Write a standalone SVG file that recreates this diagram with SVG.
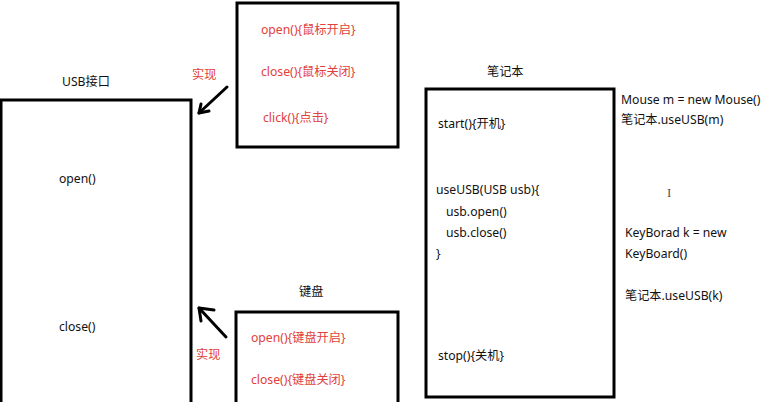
<svg xmlns="http://www.w3.org/2000/svg" width="770" height="402" viewBox="0 0 770 402">
<style>
.box{fill:none;stroke:#000;stroke-width:3}
.t{font-family:"Noto Sans","Noto Sans CJK SC",sans-serif;font-size:12.2px;fill:#111}
.r{font-family:"Noto Sans","Noto Sans CJK SC",sans-serif;font-size:12.2px;fill:#e2403a}
.ar{fill:none;stroke:#000;stroke-width:3;stroke-linecap:round;stroke-linejoin:round}
</style>
<rect width="770" height="402" fill="#fff"/>
<g id="usb">
<rect class="box" x="1" y="100" width="190" height="310"/>
<text class="t" x="62" y="86">USB接口</text>
<text class="t" x="59" y="183">open()</text>
<text class="t" x="59" y="331">close()</text>
</g>
<g id="mouse">
<rect class="box" x="237" y="3" width="161" height="144"/>
<text class="r" x="261" y="34">open(){鼠标开启}</text>
<text class="r" x="261" y="76">close(){鼠标关闭}</text>
<text class="r" x="263" y="122">click(){点击}</text>
</g>
<g id="keyboard">
<rect class="box" x="236" y="312" width="162" height="100"/>
<text class="t" x="299" y="296">键盘</text>
<text class="r" x="251" y="342">open(){键盘开启}</text>
<text class="r" x="251" y="384">close(){键盘关闭}</text>
</g>
<g id="notebook">
<rect class="box" x="426" y="89" width="188" height="308"/>
<text class="t" x="487" y="76">笔记本</text>
<text class="t" x="438" y="128">start(){开机}</text>
<text class="t" x="436" y="194">useUSB(USB usb){</text>
<text class="t" x="446" y="216">usb.open()</text>
<text class="t" x="446" y="237">usb.close()</text>
<text class="t" x="436" y="258">}</text>
<text class="t" x="438" y="360">stop(){关机}</text>
</g>
<g id="notes">
<text class="t" x="621" y="104">Mouse m = new Mouse()</text>
<text class="t" x="621" y="124">笔记本.useUSB(m)</text>
<text x="667" y="197" font-family="Liberation Serif, serif" font-size="13" fill="#555">I</text>
<text class="t" x="625" y="237">KeyBorad k = new</text>
<text class="t" x="625" y="258">KeyBoard()</text>
<text class="t" x="625" y="300">笔记本.useUSB(k)</text>
</g>
<g id="connectors">
<line class="ar" x1="227" y1="87" x2="199" y2="113"/>
<polyline class="ar" points="201,104 199,113 209,111"/>
<text class="r" x="192" y="79">实现</text>
<line class="ar" x1="226" y1="337" x2="199" y2="308"/>
<polyline class="ar" points="214,310 199,308 201,321"/>
<text class="r" x="196" y="359">实现</text>
</g>
</svg>
